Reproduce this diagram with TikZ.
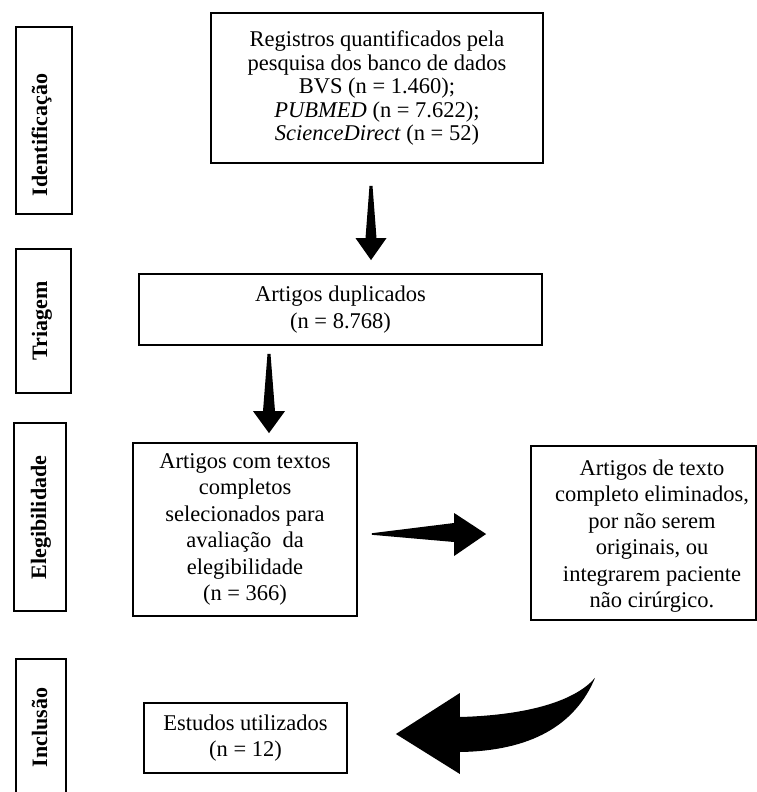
\documentclass[tikz,border=0pt]{standalone}
\usepackage{fontspec}
\setmainfont{Liberation Serif}
\usetikzlibrary{calc}
\begin{document}
\begin{tikzpicture}[x=1pt,y=-1pt,
  box/.style={draw=black, line width=1.8pt, inner sep=0pt},
  txt/.style={align=center, font=\fontsize{22.5}{26.5}\selectfont, inner sep=0pt},
  lbl/.style={rotate=90, anchor=base, font=\fontsize{22}{26}\selectfont\bfseries, inner sep=0pt},
  blk/.style={fill=black, draw=none}]
\clip (0,0) rectangle (757,792);
\fill[white] (0,0) rectangle (757,792);

% phase labels
\node[box, minimum width=56, minimum height=187] (idbox) at (44,120.5) {};
\node[lbl] (idtxt) at (47,135) {Identificação};
\node[box, minimum width=55, minimum height=144] (trbox) at (43.5,321) {};
\node[lbl] (trtxt) at (47,321) {Triagem};
\node[box, minimum width=52, minimum height=188] (elbox) at (40,517) {};
\node[lbl] (eltxt) at (46,517.5) {Elegibilidade};
\node[box, minimum width=50, minimum height=141] (inbox) at (41,729.5) {};
\node[lbl] (intxt) at (47,727.5) {Inclusão};

% content boxes
\node[box, txt, font=\fontsize{22.5}{23.5}\selectfont, minimum width=332, minimum height=150] (reg) at (377,88)
  {Registros quantificados pela\\pesquisa dos banco de dados\\BVS (n = 1.460);\\\textit{PUBMED} (n = 7.622);\\\textit{ScienceDirect} (n = 52)};
\node[box, txt, minimum width=403, minimum height=71] (tri) at (340.5,309.5)
  {Artigos duplicados\\(n = 8.768)};
\node[box, txt, minimum width=224, minimum height=173] (eleg) at (245,529.5)
  {Artigos com textos\\completos\\selecionados para\\avaliação\ \ da\\elegibilidade\\(n = 366)};
\node[box, minimum width=225, minimum height=174] (rbox) at (643.5,533) {};
\node[txt] (rtxt) at (652,536)
  {Artigos de texto\\completo eliminados,\\por não serem\\originais, ou\\integrarem paciente\\não cirúrgico.};
\node[box, txt, minimum width=203, minimum height=70] (est) at (245.5,738)
  {Estudos utilizados\\(n = 12)};

% arrow 1
\coordinate (a1t) at ($(reg.south)+(-6,22)$);
\coordinate (a1h) at ($(tri.north)+(30.5,-13)$);
\fill[blk] ($(a1t)+(-1.5,0)$) -- ($(a1t)+(1.5,0)$) -- ($(a1h)+(5.5,-22)$) -- ($(a1h)+(15.5,-22)$)
  -- (a1h) -- ($(a1h)+(-15.5,-22)$) -- ($(a1h)+(-5.5,-22)$) -- cycle;

% arrow 2
\coordinate (a2t) at ($(tri.south)+(-71.5,8)$);
\coordinate (a2h) at ($(eleg.north)+(24,-9)$);
\fill[blk] ($(a2t)+(-1.5,0)$) -- ($(a2t)+(1.5,0)$) -- ($(a2h)+(6,-22)$) -- ($(a2h)+(16,-22)$)
  -- (a2h) -- ($(a2h)+(-16,-22)$) -- ($(a2h)+(-6,-22)$) -- cycle;

% arrow 3
\coordinate (a3t) at ($(eleg.east)+(14,4.5)$);
\coordinate (a3h) at ($(rbox.west)+(-44,1)$);
\fill[blk] ($(a3t)+(0,-0.8)$) -- ($(a3h)+(-32,-11)$) -- ($(a3h)+(-32,-21)$) -- (a3h)
  -- ($(a3h)+(-32,22)$) -- ($(a3h)+(-32,8)$) -- ($(a3t)+(0,0.8)$) -- cycle;

% arrow 4 (curved)
\coordinate (a4h) at ($(est.east)+(48,-4)$);
\coordinate (a4t) at ($(rbox.south)+(-48.5,57)$);
\fill[blk] (a4h) -- ($(a4h)+(64,-41)$) -- ($(a4h)+(64,-17)$)
  .. controls ($(a4h)+(135,-19)$) and ($(a4h)+(180,-34)$) .. (a4t)
  .. controls ($(a4t)+(-20,48)$) and ($(a4t)+(-65,73)$) .. ($(a4h)+(64,18)$)
  -- ($(a4h)+(64,40)$) -- cycle;
\end{tikzpicture}
\end{document}
